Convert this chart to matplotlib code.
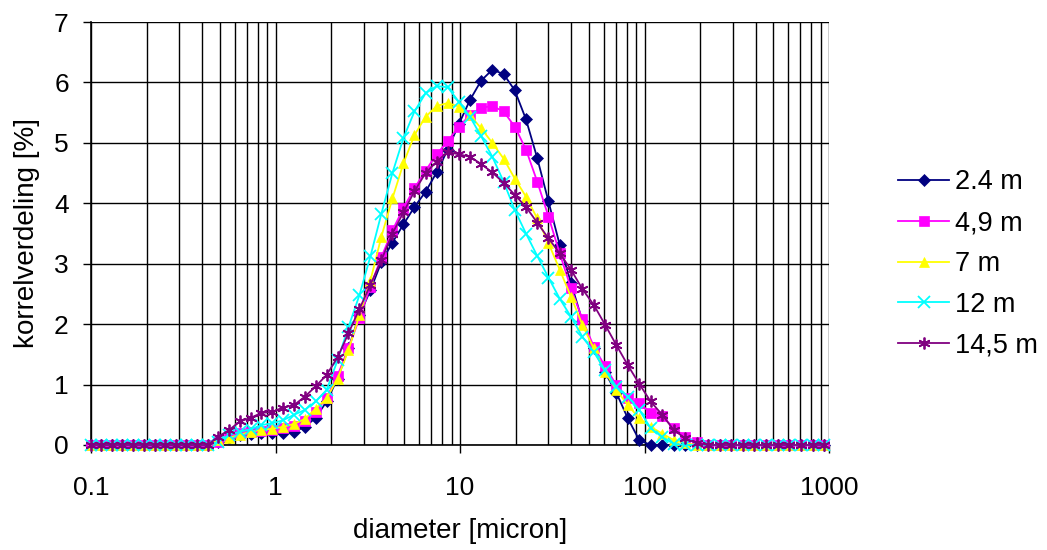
import matplotlib
matplotlib.use('Agg')
import matplotlib.pyplot as plt
from matplotlib.ticker import FixedLocator, NullFormatter

plt.rcParams['font.family'] = ['Liberation Sans', 'DejaVu Sans']

# particle diameters of the size classes [micron]
diameter = [0.1, 0.114, 0.130, 0.148, 0.169, 0.193, 0.221, 0.252, 0.288, 0.329,
            0.376, 0.429, 0.490, 0.561, 0.641, 0.734, 0.839, 0.961, 1.100, 1.259,
            1.442, 1.651, 1.892, 2.169, 2.486, 2.850, 3.268, 3.750, 4.302, 4.936,
            5.666, 6.506, 7.470, 8.581, 9.858, 11.33, 13.02, 14.97, 17.22, 19.80,
            22.78, 26.21, 30.17, 34.73, 39.99, 46.07, 53.06, 61.15, 70.47, 81.24,
            93.70, 108.0, 124.7, 143.9, 166.0, 191.6, 221.3, 255.6, 295.2, 341.2,
            394.4, 455.9, 527.1, 609.7, 705.2, 815.6, 944.1]

# korrelverdeling [%] per diepte
d_2_4 = [0, 0, 0, 0, 0, 0, 0, 0, 0, 0, 0, 0,
         0.05, 0.12, 0.17, 0.19, 0.20, 0.20, 0.20, 0.22, 0.30, 0.45, 0.72, 1.10, 1.60, 2.15,
         2.56, 3.03, 3.35, 3.65, 3.94, 4.19, 4.51, 4.89, 5.31, 5.71, 6.03, 6.21, 6.14, 5.87,
         5.39, 4.75, 4.03, 3.31, 2.68, 2.05, 1.60, 1.20, 0.86, 0.44, 0.08, 0, 0, 0,
         0, 0, 0, 0, 0, 0, 0, 0, 0, 0, 0, 0, 0]
d_4_9 = [0, 0, 0, 0, 0, 0, 0, 0, 0, 0, 0, 0,
         0.05, 0.15, 0.20, 0.22, 0.23, 0.25, 0.28, 0.32, 0.40, 0.55, 0.78, 1.15, 1.60, 2.10,
         2.62, 3.11, 3.55, 3.92, 4.25, 4.54, 4.81, 5.03, 5.27, 5.46, 5.58, 5.61, 5.52, 5.27,
         4.89, 4.36, 3.78, 3.17, 2.59, 2.08, 1.63, 1.30, 0.99, 0.77, 0.69, 0.53, 0.48, 0.28,
         0.14, 0.05, 0, 0, 0, 0, 0, 0, 0, 0, 0, 0, 0]
d_7 = [0, 0, 0, 0, 0, 0, 0, 0, 0, 0, 0, 0,
       0.08, 0.12, 0.17, 0.22, 0.25, 0.27, 0.30, 0.35, 0.43, 0.60, 0.77, 1.10, 1.57, 2.15,
       2.72, 3.45, 4.08, 4.66, 5.13, 5.43, 5.61, 5.66, 5.60, 5.46, 5.24, 5.00, 4.74, 4.41,
       4.11, 3.75, 3.34, 2.90, 2.45, 1.99, 1.60, 1.21, 0.91, 0.66, 0.44, 0.30, 0.19, 0.08,
       0.03, 0, 0, 0, 0, 0, 0, 0, 0, 0, 0, 0, 0]
d_12 = [0, 0, 0, 0, 0, 0, 0, 0, 0, 0, 0, 0,
        0.05, 0.17, 0.22, 0.26, 0.33, 0.36, 0.41, 0.50, 0.58, 0.72, 0.91, 1.40, 1.95, 2.48,
        3.12, 3.83, 4.50, 5.08, 5.52, 5.82, 5.94, 5.92, 5.68, 5.43, 5.11, 4.77, 4.36, 3.89,
        3.50, 3.13, 2.77, 2.42, 2.12, 1.79, 1.54, 1.24, 0.96, 0.80, 0.58, 0.28, 0.13, 0.02,
        0, 0, 0, 0, 0, 0, 0, 0, 0, 0, 0, 0, 0]
d_14_5 = [0, 0, 0, 0, 0, 0, 0, 0, 0, 0, 0, 0,
          0.14, 0.25, 0.39, 0.45, 0.53, 0.55, 0.62, 0.66, 0.80, 0.97, 1.16, 1.45, 1.85, 2.25,
          2.65, 3.06, 3.50, 3.85, 4.20, 4.50, 4.69, 4.85, 4.81, 4.77, 4.65, 4.51, 4.34, 4.14,
          3.94, 3.68, 3.42, 3.17, 2.90, 2.58, 2.32, 1.99, 1.65, 1.32, 1.01, 0.72, 0.50, 0.25,
          0.11, 0.03, 0, 0, 0, 0, 0, 0, 0, 0, 0, 0, 0]

labels = ['2.4 m', '4,9 m', '7 m', '12 m', '14,5 m']
series = [d_2_4, d_4_9, d_7, d_12, d_14_5]
colors = ['#000080', '#FF00FF', '#FFFF00', '#00FFFF', '#800080']
markers = ['D', 's', '^', 'x', (6, 2, 0)]
msizes = [6.5, 7, 7.5, 8, 8.5]

fig = plt.figure(figsize=(10.47, 5.5), dpi=100)
ax = fig.add_axes([91 / 1047, 1 - 445 / 550, 738 / 1047, 423 / 550])

for y, lab, c, m, ms in zip(series, labels, colors, markers, msizes):
    ax.plot(diameter, y, color=c, marker=m, markersize=ms, linewidth=1.3,
            markeredgewidth=1.3 if m in ('x', (6, 2, 0)) else 0.5,
            markeredgecolor=c, label=lab, clip_on=False, zorder=3)

ax.set_xscale('log')
ax.set_xlim(0.1, 1000)
ax.set_ylim(0, 7)
ax.set_xticks([0.1, 1, 10, 100, 1000])
ax.set_xticklabels(['0.1', '1', '10', '100', '1000'])
ax.xaxis.set_minor_locator(FixedLocator([k * 10.0 ** e for e in range(-1, 3) for k in range(2, 10)]))
ax.xaxis.set_minor_formatter(NullFormatter())
ax.set_yticks(range(0, 8))

ax.grid(True, which='major', color='black', linewidth=1.0)
ax.grid(True, which='minor', axis='x', color='black', linewidth=1.0)
ax.set_axisbelow(True)

ax.tick_params(axis='both', which='major', labelsize=19, length=6, width=1, direction='out', color='black')
ax.tick_params(axis='x', which='minor', length=0)
ax.tick_params(axis='x', pad=16)
ax.tick_params(axis='y', pad=10)
for s in ['top', 'right']:
    ax.spines[s].set_visible(False)
for s in ['left', 'bottom']:
    ax.spines[s].set_color('black')
    ax.spines[s].set_linewidth(1.2)

ax.set_xlabel('diameter [micron]', fontsize=20, labelpad=13)
ax.set_ylabel('korrelverdeling [%]', fontsize=20, labelpad=10)

fig.legend(loc='center left', bbox_to_anchor=(887 / 1047, 1 - 264 / 550), frameon=False,
           fontsize=19.5, handlelength=1.9, labelspacing=0.55, handletextpad=0.2,
           borderaxespad=0)

fig.savefig('out.png', dpi=100)
